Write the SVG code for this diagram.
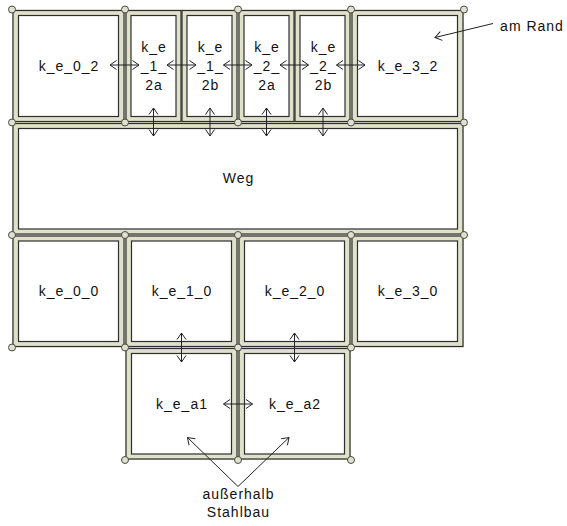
<svg xmlns="http://www.w3.org/2000/svg" width="567" height="526" viewBox="0 0 567 526">
<defs>
<style>
.bk{fill:#dfe1cb;stroke:none}
.fr{fill:#dfe1cb;stroke:#2e2e2e;stroke-width:1.2}
.in{fill:#ffffff;stroke:#2e2e2e;stroke-width:1.2}
.pt{fill:#dfe1cb;stroke:#4a4a4a;stroke-width:1}
.t{font-family:"Liberation Sans",Arial,sans-serif;font-size:14px;letter-spacing:1px;fill:#111;text-anchor:middle}
.c{fill:none;stroke:#222;stroke-width:1;marker-start:url(#ah);marker-end:url(#ah)}
.a{fill:none;stroke:#222;stroke-width:1;marker-end:url(#ah)}
</style>
<marker id="ah" markerUnits="userSpaceOnUse" markerWidth="12" markerHeight="12" viewBox="0 0 12 12" refX="10" refY="6" orient="auto-start-reverse">
<path d="M3.5,1.5 L10,6 L3.5,10.5" fill="none" stroke="#222" stroke-width="1"/>
</marker>
</defs>
<rect class="bk" x="12" y="9.5" width="452" height="338"/>
<rect class="bk" x="125" y="347.5" width="226" height="112.5"/>
<g id="k_e_0_2"><rect class="fr" x="13" y="10.5" width="111" height="111"/><rect class="in" x="18.5" y="15.5" width="100" height="101"/><text class="t" x="69" y="70.5">k_e_0_2</text></g>
<g id="k_e_1_2a"><rect class="fr" x="126" y="10.5" width="55" height="111"/><rect class="in" x="131" y="15.5" width="45" height="101"/><text class="t" x="154" y="52">k_e</text><text class="t" x="154" y="70.5">_1_</text><text class="t" x="154" y="89.5">2a</text></g>
<g id="k_e_1_2b"><rect class="fr" x="182" y="10.5" width="55" height="111"/><rect class="in" x="187" y="15.5" width="45" height="101"/><text class="t" x="210.5" y="52">k_e</text><text class="t" x="210.5" y="70.5">_1_</text><text class="t" x="210.5" y="89.5">2b</text></g>
<g id="k_e_2_2a"><rect class="fr" x="239" y="10.5" width="55" height="111"/><rect class="in" x="244" y="15.5" width="45" height="101"/><text class="t" x="267" y="52">k_e</text><text class="t" x="267" y="70.5">_2_</text><text class="t" x="267" y="89.5">2a</text></g>
<g id="k_e_2_2b"><rect class="fr" x="295" y="10.5" width="55" height="111"/><rect class="in" x="300" y="15.5" width="45" height="101"/><text class="t" x="323.5" y="52">k_e</text><text class="t" x="323.5" y="70.5">_2_</text><text class="t" x="323.5" y="89.5">2b</text></g>
<g id="k_e_3_2"><rect class="fr" x="352" y="10.5" width="111" height="111"/><rect class="in" x="357.5" y="15.5" width="100" height="101"/><text class="t" x="408" y="70.5">k_e_3_2</text></g>
<g id="Weg"><rect class="fr" x="13" y="123.5" width="450" height="110.5"/><rect class="in" x="18.5" y="128.5" width="439" height="100.5"/><text class="t" x="238.5" y="182.5">Weg</text></g>
<g id="k_e_0_0"><rect class="fr" x="13" y="236" width="111" height="110.5"/><rect class="in" x="18.5" y="241" width="100" height="100.5"/><text class="t" x="69" y="296">k_e_0_0</text></g>
<g id="k_e_1_0"><rect class="fr" x="126" y="236" width="111" height="110.5"/><rect class="in" x="131.5" y="241" width="100" height="100.5"/><text class="t" x="182" y="296">k_e_1_0</text></g>
<g id="k_e_2_0"><rect class="fr" x="239" y="236" width="111" height="110.5"/><rect class="in" x="244.5" y="241" width="100" height="100.5"/><text class="t" x="295" y="296">k_e_2_0</text></g>
<g id="k_e_3_0"><rect class="fr" x="352" y="236" width="111" height="110.5"/><rect class="in" x="357.5" y="241" width="100" height="100.5"/><text class="t" x="408" y="296">k_e_3_0</text></g>
<g id="k_e_a1"><rect class="fr" x="126" y="348.5" width="111" height="110.5"/><rect class="in" x="131.5" y="353.5" width="100" height="100.5"/><text class="t" x="182" y="408.5">k_e_a1</text></g>
<g id="k_e_a2"><rect class="fr" x="239" y="348.5" width="111" height="110.5"/><rect class="in" x="244.5" y="353.5" width="100" height="100.5"/><text class="t" x="295" y="408.5">k_e_a2</text></g>
<g id="points">
<circle class="pt" cx="12" cy="9.5" r="3.5"/><circle class="pt" cx="125" cy="9.5" r="3.5"/><circle class="pt" cx="238" cy="9.5" r="3.5"/><circle class="pt" cx="351" cy="9.5" r="3.5"/><circle class="pt" cx="464" cy="9.5" r="3.5"/>
<circle class="pt" cx="12" cy="122.5" r="3.5"/><circle class="pt" cx="125" cy="122.5" r="3.5"/><circle class="pt" cx="238" cy="122.5" r="3.5"/><circle class="pt" cx="351" cy="122.5" r="3.5"/><circle class="pt" cx="464" cy="122.5" r="3.5"/>
<circle class="pt" cx="12" cy="235" r="3.5"/><circle class="pt" cx="125" cy="235" r="3.5"/><circle class="pt" cx="238" cy="235" r="3.5"/><circle class="pt" cx="351" cy="235" r="3.5"/><circle class="pt" cx="464" cy="235" r="3.5"/>
<circle class="pt" cx="12" cy="347.5" r="3.5"/><circle class="pt" cx="125" cy="347.5" r="3.5"/><circle class="pt" cx="238" cy="347.5" r="3.5"/><circle class="pt" cx="351" cy="347.5" r="3.5"/>
<circle class="pt" cx="125" cy="460" r="3.5"/><circle class="pt" cx="238" cy="460" r="3.5"/><circle class="pt" cx="351" cy="460" r="3.5"/>
</g>
<g id="connectors">
<line class="c" x1="110" y1="65" x2="139" y2="65"/>
<line class="c" x1="167" y1="65" x2="196" y2="65"/>
<line class="c" x1="223.5" y1="65" x2="252" y2="65"/>
<line class="c" x1="280" y1="65" x2="308.5" y2="65"/>
<line class="c" x1="336.5" y1="65" x2="365" y2="65"/>
<line class="c" x1="153.5" y1="108" x2="153.5" y2="136"/>
<line class="c" x1="210" y1="108" x2="210" y2="136"/>
<line class="c" x1="266.5" y1="108" x2="266.5" y2="136"/>
<line class="c" x1="323" y1="108" x2="323" y2="136"/>
<line class="c" x1="181.5" y1="333" x2="181.5" y2="362"/>
<line class="c" x1="294.5" y1="333" x2="294.5" y2="362"/>
<line class="c" x1="223.5" y1="404" x2="252.5" y2="404"/>
<line class="a" x1="493" y1="23.5" x2="435" y2="37.5"/>
<line class="a" x1="238" y1="486.5" x2="187.5" y2="437.5"/>
<line class="a" x1="238" y1="486.5" x2="289" y2="437.5"/>
</g>
<g id="labels">
<text class="t" x="532" y="30.5">am Rand</text>
<text class="t" x="238.5" y="499">außerhalb</text>
<text class="t" x="238.5" y="516.5">Stahlbau</text>
</g>
</svg>
